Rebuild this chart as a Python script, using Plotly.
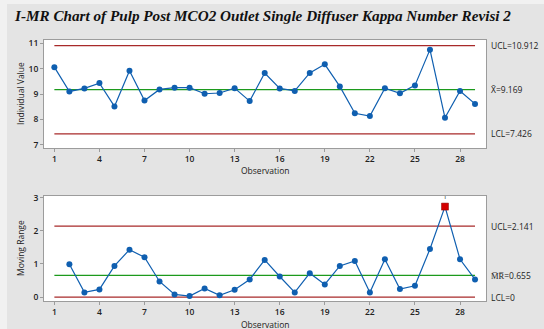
import plotly.graph_objects as go

# ---- data ----
obs = list(range(1, 30))
individual = [10.06, 9.10, 9.22, 9.43, 8.51, 9.92, 8.74, 9.18, 9.25, 9.25,
              9.01, 9.04, 9.23, 8.72, 9.83, 9.22, 9.12, 9.83, 10.17, 9.30,
              8.24, 8.13, 9.23, 9.03, 9.34, 10.75, 8.06, 9.12, 8.61]
mr_obs = list(range(2, 30))
moving_range = [0.99, 0.14, 0.23, 0.94, 1.43, 1.20, 0.47, 0.08, 0.03, 0.26,
                0.05, 0.22, 0.53, 1.12, 0.62, 0.14, 0.72, 0.38, 0.94, 1.09,
                0.14, 1.14, 0.24, 0.34, 1.45, 2.73, 1.14, 0.53]
i_limits = {"UCL": 10.912, "CL": 9.169, "LCL": 7.426}
mr_limits = {"UCL": 2.141, "CL": 0.655, "LCL": 0.0}
i_ticks = [7, 8, 9, 10, 11]
mr_ticks = [0, 1, 2, 3]
x_ticks = [1, 4, 7, 10, 13, 16, 19, 22, 25, 28]
flagged_obs = [27]
title = "I-MR Chart of Pulp Post MCO2 Outlet Single Diffuser Kappa Number Revisi 2"

W, H = 544, 329
BLUE = "#0f5fb0"
RED = "#a82a2a"
GREEN = "#1c9a1c"
FONT = "Open Sans"

fig = go.Figure()

# control lines
for key, col in (("UCL", RED), ("CL", GREEN), ("LCL", RED)):
    fig.add_trace(go.Scatter(x=[obs[0], obs[-1]], y=[i_limits[key]] * 2, mode="lines",
                             line=dict(color=col, width=1.3), hoverinfo="skip",
                             xaxis="x", yaxis="y"))
    fig.add_trace(go.Scatter(x=[obs[0], obs[-1]], y=[mr_limits[key]] * 2, mode="lines",
                             line=dict(color=col, width=1.3), hoverinfo="skip",
                             xaxis="x2", yaxis="y2"))

# data
fig.add_trace(go.Scatter(x=obs, y=individual, mode="lines+markers",
                         line=dict(color=BLUE, width=1.2),
                         marker=dict(color=BLUE, size=6), xaxis="x", yaxis="y"))
fig.add_trace(go.Scatter(x=mr_obs, y=moving_range, mode="lines+markers",
                         line=dict(color=BLUE, width=1.2),
                         marker=dict(color=BLUE, size=6), xaxis="x2", yaxis="y2"))
fx = flagged_obs
fy = [moving_range[mr_obs.index(o)] for o in fx]
fig.add_trace(go.Scatter(x=fx, y=fy, mode="markers+text", text=["1"] * len(fx),
                         textposition="top center",
                         textfont=dict(family=FONT, size=7, color="#333"),
                         marker=dict(color="#d40000", size=7, symbol="square",
                                     line=dict(color="#8a0000", width=0.5)),
                         xaxis="x2", yaxis="y2"))

def px_x(p):
    return p / W

def px_y(p):
    return 1 - p / H

xdom = [px_x(44), px_x(486)]
xr = [0.31, 29.73]
axis_common = dict(showline=True, mirror=True, linecolor="#9c9c9c", linewidth=1,
                   ticks="outside", ticklen=3, tickcolor="#9c9c9c", showgrid=False,
                   zeroline=False, automargin=False,
                   tickfont=dict(family=FONT, size=8.5, color="#222", weight=600))

outer = "#f1f1f1"
fig.update_layout(
    width=W, height=H, margin=dict(l=0, r=0, t=0, b=0),
    paper_bgcolor="#e4e4e4", plot_bgcolor="#ffffff", showlegend=False,
    xaxis=dict(domain=xdom, range=xr, tickvals=x_ticks, anchor="y", **axis_common),
    yaxis=dict(domain=[px_y(148), px_y(40)], range=[6.87, 11.13], tickvals=i_ticks,
               anchor="x", **axis_common),
    xaxis2=dict(domain=xdom, range=xr, tickvals=x_ticks, anchor="y2", **axis_common),
    yaxis2=dict(domain=[px_y(301), px_y(196)], range=[-0.12, 3.05], tickvals=mr_ticks,
                anchor="x2", **axis_common),
    shapes=[
        dict(type="rect", xref="paper", yref="paper", x0=-0.01, x1=px_x(7),
             y0=-0.01, y1=1.01, fillcolor=outer, line=dict(width=0), layer="below"),
        dict(type="rect", xref="paper", yref="paper", x0=-0.01, x1=1.01,
             y0=px_y(4), y1=1.01, fillcolor=outer, line=dict(width=0), layer="below"),
        dict(type="rect", xref="x domain", yref="y domain", x0=0, x1=1, y0=0, y1=1,
             fillcolor="#ffffff", line=dict(width=0), layer="below"),
        dict(type="rect", xref="x2 domain", yref="y2 domain", x0=0, x1=1, y0=0, y1=1,
             fillcolor="#ffffff", line=dict(width=0), layer="below"),
    ],
)

ann_font = dict(family=FONT, size=8.5, color="#222")
anns = [
    dict(text="<b><i>" + title + "</i></b>", x=px_x(12), y=px_y(15), xanchor="left",
         yanchor="middle", font=dict(family="Liberation Serif", size=15.2, color="#111")),
    dict(text="Individual Value", x=px_x(20), y=px_y(94), textangle=-90,
         xanchor="center", yanchor="middle", font=ann_font),
    dict(text="Moving Range", x=px_x(20), y=px_y(248), textangle=-90,
         xanchor="center", yanchor="middle", font=ann_font),
    dict(text="Observation", x=px_x(265), y=px_y(170), xanchor="center",
         yanchor="middle", font=ann_font),
    dict(text="Observation", x=px_x(265), y=px_y(324), xanchor="center",
         yanchor="middle", font=ann_font),
]
for a in anns:
    a.update(xref="paper", yref="paper", showarrow=False)
fig.update_layout(annotations=anns)

right_labels = [
    ("y", i_limits["UCL"], "UCL=%.3f" % i_limits["UCL"]),
    ("y", i_limits["CL"], "X\u0304=%.3f" % i_limits["CL"]),
    ("y", i_limits["LCL"], "LCL=%.3f" % i_limits["LCL"]),
    ("y2", mr_limits["UCL"], "UCL=%.3f" % mr_limits["UCL"]),
    ("y2", mr_limits["CL"], "M\u0305R\u0305=%.3f" % mr_limits["CL"]),
    ("y2", mr_limits["LCL"], "LCL=%g" % mr_limits["LCL"]),
]
for yref, yv, txt in right_labels:
    fig.add_annotation(text=txt, xref="paper", yref=yref, x=px_x(489), y=yv,
                       xanchor="left", yanchor="middle", showarrow=False, font=ann_font)

fig.write_html("out.html", config={"displayModeBar": False},
               post_script="document.body.style.margin='0';"
                           "document.body.style.overflow='hidden';")
